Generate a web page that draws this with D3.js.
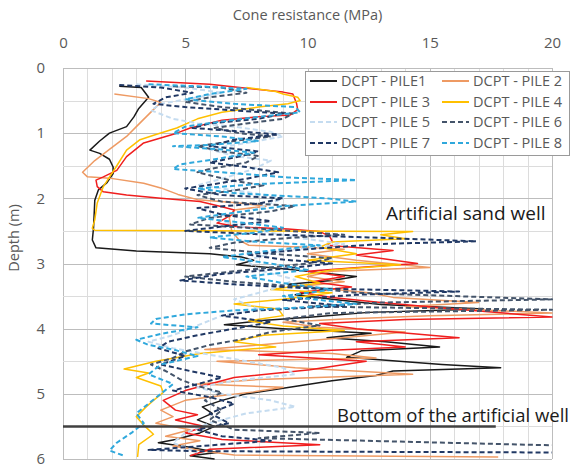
<!DOCTYPE html>
<html>
<head>
<meta charset="utf-8">
<script src="https://cdn.jsdelivr.net/npm/d3@7"></script>
<style>
  body { margin: 0; background: #fff; }
  svg text { font-family: "Open Sans", sans-serif; }
</style>
</head>
<body>
<div id="chart"></div>
<script>
// Cone resistance [MPa, depth m] for each pile
var pile1 = [[2.3,0.28],[3.2,0.3],[3.5,0.45],[3.1,0.62],[2.9,0.75],[2.6,0.9],[1.9,1.0],[1.5,1.12],[1.1,1.26],[1.5,1.31],[1.9,1.4],[2.05,1.52],[2.05,1.62],[1.8,1.76],[1.45,1.87],[1.3,2.03],[1.25,2.45],[1.2,2.64],[1.35,2.76],[3.0,2.81],[6.0,2.85],[7.3,2.9],[7.8,2.95],[7.1,3.02],[9.0,3.08],[10.5,3.14],[12.0,3.2],[11.0,3.26],[9.2,3.32],[10.8,3.4],[9.5,3.48],[11.0,3.55],[13.0,3.63],[17.2,3.7],[12.5,3.75],[10.2,3.82],[8.0,3.88],[6.6,3.94],[9.0,4.0],[12.6,4.07],[10.8,4.14],[13.2,4.2],[15.4,4.28],[12.2,4.34],[11.6,4.44],[15.5,4.55],[17.9,4.6],[13.5,4.65],[12.8,4.72],[11.0,4.8],[9.6,4.88],[7.5,5.0],[6.5,5.1],[5.7,5.2],[6.1,5.3],[5.5,5.4],[6.2,5.5],[5.6,5.6],[4.6,5.7],[3.9,5.75],[5.2,5.82],[6.3,5.9],[5.2,5.95],[6.2,6.0]];
var pile2 = [[2.1,0.4],[3.5,0.47],[4.0,0.53],[3.8,0.6],[3.4,0.75],[3.0,0.9],[2.6,1.05],[1.9,1.25],[1.3,1.42],[0.8,1.6],[1.0,1.67],[1.9,1.69],[3.3,1.77],[4.0,1.84],[4.7,1.94],[5.5,2.02],[7.2,2.07],[8.3,2.12],[7.0,2.18],[6.8,2.3],[6.9,2.5],[7.2,2.64],[7.6,2.72],[10.0,2.75],[11.5,2.78],[10.0,2.85],[12.0,2.95],[15.0,3.06],[11.0,3.12],[10.0,3.2],[11.5,3.28],[9.8,3.35],[12.5,3.45],[13.5,3.52],[17.0,3.6],[14.0,3.66],[20,3.76],[15.0,3.8],[11.5,3.85],[9.0,3.9],[10.5,3.98],[14.0,4.05],[12.0,4.12],[8.0,4.25],[5.8,4.32],[11.0,4.38],[12.8,4.45],[6.3,4.5],[9.5,4.6],[14.3,4.7],[8.0,4.78],[5.5,4.85],[9.0,4.9],[7.8,4.97],[6.0,5.05],[5.0,5.1],[4.0,5.25],[4.5,5.35],[3.8,5.45],[5.2,5.55],[4.2,5.65],[5.6,5.72],[4.5,5.8],[5.8,5.88],[7.0,5.94],[17.8,5.97]];
var pile3 = [[3.4,0.2],[6.0,0.25],[9.0,0.37],[9.4,0.4],[9.55,0.54],[9.6,0.64],[9.3,0.72],[7.9,0.75],[6.5,0.8],[5.2,0.92],[4.65,1.0],[3.3,1.15],[2.6,1.36],[2.2,1.57],[1.65,1.67],[1.35,1.72],[1.4,1.82],[1.65,1.9],[2.6,1.95],[4.0,2.0],[5.6,2.05],[6.5,2.13],[7.0,2.18],[6.9,2.25],[6.3,2.38],[7.2,2.44],[9.2,2.47],[10.5,2.51],[10.9,2.58],[11.0,2.65],[10.8,2.72],[13.5,2.8],[12.0,2.87],[14.5,3.0],[12.5,3.05],[10.0,3.12],[11.5,3.2],[10.2,3.28],[11.8,3.36],[9.7,3.44],[11.0,3.52],[13.0,3.6],[16.0,3.7],[20,3.82],[14.0,3.86],[10.5,3.92],[12.0,4.0],[16.2,4.14],[12.0,4.2],[14.0,4.28],[11.0,4.33],[8.0,4.4],[12.4,4.5],[10.1,4.63],[7.0,4.75],[5.0,4.95],[4.1,5.1],[4.6,5.25],[5.5,5.32],[4.6,5.4],[5.8,5.5],[5.0,5.6],[6.5,5.7],[10.5,5.78],[6.0,5.85],[5.2,5.95]];
var pile4 = [[7.5,0.3],[8.7,0.36],[9.0,0.4],[9.6,0.45],[9.7,0.5],[9.2,0.55],[8.0,0.6],[6.5,0.68],[5.5,0.78],[4.65,0.92],[3.8,1.02],[3.15,1.1],[2.6,1.26],[2.2,1.5],[1.65,1.82],[1.4,2.07],[1.3,2.33],[1.2,2.46],[1.3,2.49],[8.0,2.5],[14.3,2.51],[13.0,2.56],[14.0,2.62],[11.0,2.67],[10.5,2.75],[12.0,2.85],[10.0,2.95],[13.8,3.02],[11.0,3.1],[9.5,3.2],[10.5,3.3],[8.5,3.4],[11.0,3.45],[9.0,3.55],[7.0,3.62],[8.8,3.7],[9.0,3.8],[7.6,3.88],[9.0,3.96],[11.5,4.03],[8.2,4.1],[7.0,4.2],[8.7,4.28],[5.6,4.38],[3.8,4.5],[2.5,4.62],[3.5,4.68],[3.0,4.75],[4.0,4.88],[4.1,4.98],[3.7,5.1],[3.4,5.2],[3.0,5.35],[3.3,5.48],[3.7,5.62],[3.1,5.78],[3.05,5.97]];
var pile5 = [[3.0,0.25],[5.0,0.3],[6.5,0.38],[5.5,0.45],[4.0,0.55],[3.6,0.65],[4.5,0.78],[5.5,0.85],[7.0,0.9],[8.5,0.98],[9.0,1.05],[7.5,1.15],[6.0,1.25],[7.0,1.35],[8.5,1.42],[7.8,1.55],[6.5,1.7],[5.5,1.8],[7.5,1.9],[9.0,2.0],[8.0,2.15],[6.0,2.3],[7.5,2.45],[9.5,2.6],[11.5,2.7],[9.0,2.8],[7.5,2.95],[8.0,3.1],[9.5,3.25],[8.5,3.4],[7.0,3.55],[8.0,3.7],[6.5,3.8],[5.5,3.95],[4.5,4.1],[3.5,4.2],[4.5,4.3],[6.0,4.4],[7.5,4.5],[9.0,4.6],[9.5,4.7],[7.0,4.8],[5.5,4.9],[6.5,5.0],[8.5,5.1],[9.5,5.2],[7.5,5.3],[6.0,5.45],[5.0,5.6],[4.5,5.75],[5.5,5.9]];
var pile6 = [[4.5,0.28],[6.5,0.3],[7.5,0.38],[6.0,0.45],[5.0,0.52],[6.5,0.6],[8.0,0.65],[9.4,0.7],[9.0,0.78],[7.5,0.85],[6.2,0.92],[7.2,1.0],[8.5,1.05],[7.0,1.12],[5.5,1.2],[6.5,1.28],[8.0,1.35],[7.5,1.45],[6.0,1.55],[5.5,1.6],[6.8,1.72],[8.2,1.8],[7.0,1.88],[5.5,1.95],[6.5,2.05],[9.5,2.12],[8.5,2.2],[6.0,2.3],[5.2,2.4],[7.5,2.45],[10.0,2.52],[11.5,2.56],[9.5,2.6],[7.0,2.68],[6.0,2.76],[8.5,2.85],[11.0,2.92],[10.0,3.0],[7.5,3.1],[5.0,3.2],[7.0,3.28],[9.5,3.35],[12.0,3.45],[20,3.55],[13.0,3.6],[10.0,3.66],[20,3.71],[11.0,3.76],[9.0,3.85],[10.5,3.95],[8.5,4.05],[7.5,4.15],[6.0,4.25],[5.0,4.35],[4.5,4.45],[3.6,4.55],[4.2,4.65],[4.8,4.78],[5.5,4.88],[6.5,4.98],[5.8,5.1],[6.5,5.25],[6.0,5.4],[7.0,5.55],[10.5,5.6],[8.0,5.68],[20,5.79]];
var pile7 = [[2.3,0.26],[4.0,0.3],[5.3,0.38],[4.2,0.45],[3.7,0.55],[5.0,0.6],[7.0,0.65],[9.0,0.7],[8.0,0.78],[6.0,0.85],[5.3,0.92],[7.5,0.98],[8.8,1.02],[7.0,1.1],[6.0,1.2],[8.0,1.28],[7.2,1.36],[6.0,1.45],[7.5,1.52],[8.8,1.6],[7.5,1.7],[6.2,1.78],[5.0,1.85],[6.5,1.95],[9.0,2.0],[8.0,2.08],[5.5,2.15],[6.5,2.25],[8.5,2.35],[6.8,2.42],[5.0,2.5],[8.0,2.55],[12.5,2.6],[16.9,2.66],[13.0,2.7],[10.0,2.78],[7.5,2.86],[9.0,2.94],[11.0,3.0],[9.0,3.08],[6.5,3.16],[4.8,3.26],[7.0,3.32],[10.0,3.38],[16.2,3.43],[12.0,3.48],[9.0,3.56],[11.5,3.65],[8.0,3.72],[6.5,3.8],[8.5,3.9],[7.0,4.0],[5.5,4.1],[4.3,4.2],[3.9,4.3],[5.0,4.42],[4.0,4.55],[5.2,4.65],[6.5,4.75],[5.5,4.85],[4.5,4.95],[6.0,5.05],[7.0,5.15],[6.0,5.3],[6.8,5.45],[5.5,5.55],[6.5,5.65],[8.5,5.72],[5.0,5.82],[3.5,5.86],[5.5,5.88],[20,5.9]];
var pile8 = [[3.5,0.25],[5.5,0.28],[7.5,0.32],[6.0,0.4],[5.0,0.48],[7.0,0.55],[9.5,0.6],[9.7,0.68],[8.0,0.75],[6.5,0.82],[5.0,0.9],[4.5,1.0],[6.5,1.05],[8.0,1.12],[6.0,1.18],[4.5,1.2],[6.5,1.25],[7.8,1.3],[6.2,1.4],[4.8,1.48],[4.5,1.55],[6.5,1.6],[9.2,1.68],[12.0,1.72],[8.0,1.78],[5.5,1.85],[7.0,1.92],[10.8,2.0],[12.0,2.05],[9.0,2.12],[7.0,2.22],[5.5,2.3],[7.5,2.38],[9.0,2.45],[8.0,2.52],[6.0,2.6],[8.0,2.67],[10.5,2.72],[8.5,2.8],[6.5,2.9],[8.5,3.0],[10.0,3.1],[7.5,3.2],[9.0,3.3],[11.0,3.4],[9.0,3.5],[12.0,3.62],[9.5,3.68],[7.0,3.72],[5.0,3.78],[3.8,3.85],[3.6,3.92],[5.5,3.98],[4.0,4.08],[3.0,4.17],[3.5,4.25],[4.5,4.32],[5.5,4.42],[4.0,4.55],[3.5,4.7],[4.5,4.85],[4.0,5.0],[3.5,5.15],[3.0,5.3],[3.3,5.45],[2.8,5.6],[2.2,5.75],[1.9,5.87],[2.5,5.95]];

var seriesNames = ['DCPT - PILE1', 'DCPT - PILE 2', 'DCPT - PILE 3', 'DCPT - PILE 4',
                   'DCPT - PILE 5', 'DCPT - PILE 6', 'DCPT - PILE 7', 'DCPT - PILE 8'];
var seriesData = [pile1, pile2, pile3, pile4, pile5, pile6, pile7, pile8];
var colors = ['#1a1a1a', '#ee9a63', '#f01e1e', '#ffc000', '#c5dcf0', '#44546a', '#203864', '#2fa8dc'];
var dashed = [false, false, false, false, true, true, true, true];

var xTicks = [0, 5, 10, 15, 20];
var yTicks = [0, 1, 2, 3, 4, 5, 6];
var wellBottom = 5.5;   // depth of artificial well bottom (m)
var wellLineEnd = 17.7; // MPa where the marker line stops

var width = 570, height = 466;
var margin = {left: 63, right: 18, top: 68, bottom: 7};

var svg = d3.select('#chart').append('svg')
  .attr('width', width)
  .attr('height', height);

var x = d3.scaleLinear().domain([0, 20]).range([margin.left, width - margin.right]);
var y = d3.scaleLinear().domain([0, 6]).range([margin.top, height - margin.bottom]);

// grid
var grid = svg.append('g');
grid.selectAll('line.vminor')
  .data(d3.range(0, 21))
  .enter().append('line')
  .attr('x1', function(d){ return Math.round(x(d)) + 0.5; })
  .attr('x2', function(d){ return Math.round(x(d)) + 0.5; })
  .attr('y1', y(0)).attr('y2', y(6))
  .attr('stroke', function(d){ return d % 5 === 0 ? '#bdbdbd' : '#dcdcdc'; })
  .attr('stroke-width', 1);
grid.selectAll('line.hminor')
  .data(d3.range(0, 6.01, 0.5))
  .enter().append('line')
  .attr('y1', function(d){ return Math.round(y(d)) + 0.5; })
  .attr('y2', function(d){ return Math.round(y(d)) + 0.5; })
  .attr('x1', x(0)).attr('x2', x(20))
  .attr('stroke', function(d){ return d % 1 === 0 ? '#bdbdbd' : '#dcdcdc'; })
  .attr('stroke-width', 1);

// axes (top and left)
var xAxis = d3.axisTop(x).tickValues(xTicks).tickSize(0).tickPadding(20);
svg.append('g')
  .attr('transform', 'translate(0,' + y(0) + ')')
  .call(xAxis)
  .call(function(g){ g.select('.domain').remove(); })
  .selectAll('text')
  .attr('font-family', '"Open Sans", sans-serif')
  .attr('font-size', 15)
  .attr('fill', '#595959');

var yAxis = d3.axisLeft(y).tickValues(yTicks).tickFormat(d3.format('d')).tickSize(0).tickPadding(18);
svg.append('g')
  .attr('transform', 'translate(' + x(0) + ',0)')
  .call(yAxis)
  .call(function(g){ g.select('.domain').remove(); })
  .selectAll('text')
  .attr('font-family', '"Open Sans", sans-serif')
  .attr('font-size', 15)
  .attr('fill', '#595959');

svg.append('text')
  .attr('x', x(10)).attr('y', 20)
  .attr('text-anchor', 'middle')
  .attr('font-size', 14.5)
  .attr('fill', '#595959')
  .text('Cone resistance (MPa)');

svg.append('text')
  .attr('transform', 'translate(19,238) rotate(-90)')
  .attr('text-anchor', 'middle')
  .attr('font-size', 14.5)
  .attr('fill', '#595959')
  .text('Depth (m)');

// clip
svg.append('clipPath').attr('id', 'plot-clip')
  .append('rect')
  .attr('x', x(0)).attr('y', y(0))
  .attr('width', x(20) - x(0) + 1).attr('height', y(6) - y(0) + 1);

var line = d3.line()
  .x(function(d){ return x(d[0]); })
  .y(function(d){ return y(d[1]); });

var plot = svg.append('g').attr('clip-path', 'url(#plot-clip)');
seriesData.forEach(function(s, i){
  plot.append('path')
    .datum(s)
    .attr('d', line)
    .attr('fill', 'none')
    .attr('stroke', colors[i])
    .attr('stroke-width', dashed[i] ? 2 : 1.5)
    .attr('stroke-dasharray', dashed[i] ? '5,3' : null)
    .attr('stroke-linejoin', 'round');
});

// bottom of well marker
plot.append('line')
  .attr('x1', x(0)).attr('x2', x(wellLineEnd))
  .attr('y1', y(wellBottom)).attr('y2', y(wellBottom))
  .attr('stroke', '#404040')
  .attr('stroke-width', 2.5);

// annotations
svg.append('text')
  .attr('x', 386).attr('y', 220)
  .attr('font-family', '"Liberation Sans", Arial, sans-serif')
  .attr('font-size', 19)
  .attr('fill', '#1a1a1a')
  .text('Artificial sand well');
svg.append('text')
  .attr('x', 337).attr('y', 422)
  .attr('font-family', '"Liberation Sans", Arial, sans-serif')
  .attr('font-size', 18.5)
  .attr('fill', '#1a1a1a')
  .text('Bottom of the artificial well');

// legend
var legend = svg.append('g');
legend.append('rect')
  .attr('x', 305.5).attr('y', 71.5)
  .attr('width', 264).attr('height', 84)
  .attr('fill', '#fff')
  .attr('stroke', '#9a9a9a');

var rowY = [81, 102, 122, 143];
var colX = [310, 442];
seriesNames.forEach(function(name, i){
  var cx = colX[i % 2], cy = rowY[Math.floor(i / 2)];
  legend.append('line')
    .attr('x1', cx).attr('x2', cx + 27)
    .attr('y1', cy).attr('y2', cy)
    .attr('stroke', colors[i])
    .attr('stroke-width', 2)
    .attr('stroke-dasharray', dashed[i] ? '5,3' : null);
  legend.append('text')
    .attr('x', cx + 31).attr('y', cy + 5)
    .attr('font-size', 14.5)
    .attr('fill', '#595959')
    .text(name);
});
</script>
</body>
</html>
